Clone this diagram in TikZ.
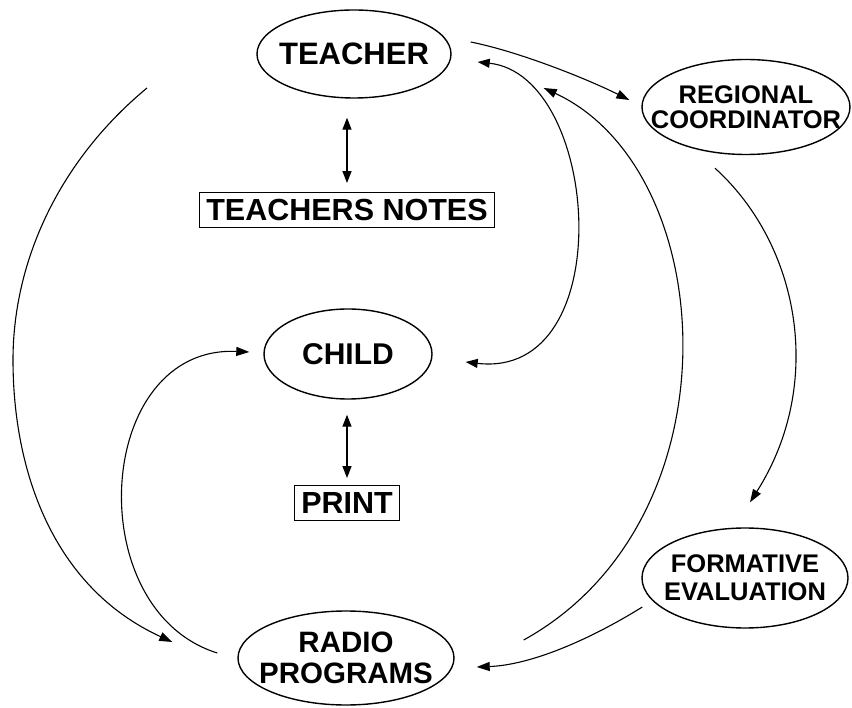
\documentclass[tikz,border=0pt]{standalone}
\usepackage{fontspec}
\setmainfont{Liberation Sans}
\usepackage{tikz}
\usetikzlibrary{arrows.meta, shapes.geometric, calc, positioning}

\begin{document}
\begin{tikzpicture}[x=1pt, y=-1pt, % toạ độ theo điểm ảnh
    oval/.style={draw, ellipse, line width=1.4pt, inner xsep=-30pt, inner ysep=0pt, align=center},
    hop/.style={draw, line width=0.9pt, inner xsep=7pt, inner ysep=0pt, minimum height=35pt, font=\bfseries\fontsize{30.5}{30.5}\selectfont},
    muiten/.style={line width=1.1pt, -{Triangle[length=13pt,width=9pt]}},
    haimui/.style={line width=1.3pt, {Triangle[length=12pt,width=9pt]}-{Triangle[length=12pt,width=9pt]}}]

  \useasboundingbox (0,0) rectangle (852,708); % khung hình

  % Vẽ các nút
  \node[oval, minimum width=194pt, minimum height=88pt, font=\bfseries\fontsize{31}{31}\selectfont] (teacher) at (354,54) {TEACHER};
  \node[hop] (notes) at (347,210) {TEACHERS NOTES};
  \node[oval, minimum width=168pt, minimum height=90pt, font=\bfseries\fontsize{30}{30}\selectfont] (child) at (348,354) {CHILD};
  \node[hop] (print) at (347,503) {PRINT};
  \node[oval, minimum width=208pt, minimum height=95pt, font=\bfseries\fontsize{25.5}{25}\selectfont] (regional) at (746,107) {REGIONAL\\COORDINATOR};
  \node[oval, minimum width=206pt, minimum height=100pt, font=\bfseries\fontsize{25.5}{28}\selectfont] (formative) at (745,578) {FORMATIVE\\EVALUATION};
  \node[oval, minimum width=216pt, minimum height=94pt, font=\bfseries\fontsize{29.5}{31}\selectfont] (radio) at (346,658) {RADIO\\PROGRAMS};
  \coordinate (outer) at (147,88); % đầu tự do của cung ngoài

  % Vẽ mũi tên hai chiều
  \draw[haimui, shorten <=19pt, shorten >=9pt] (notes.north |- teacher.south) -- (notes.north);
  \draw[haimui, shorten <=15pt, shorten >=7pt] (print.north |- child.south) -- (print.north);

  % Vẽ các cung
  \draw[muiten] ($(teacher.east)+(19,-12)$) .. controls +(50,10) and +(-40,-20) .. ($(regional.west)+(-12,-7)$); % TEACHER -> REGIONAL
  \draw[muiten] ($(regional.south)+(-31,13)$) .. controls +(85,77) and +(75,-118) .. ($(formative.north)+(5,-25)$); % REGIONAL -> FORMATIVE
  \draw[muiten] ($(formative.west)+(1,29)$) .. controls +(-53,33) and +(54,-2) .. ($(radio.east)+(22,9)$); % FORMATIVE -> RADIO
  \draw[muiten] ($(radio.east)+(69,-18)$) .. controls +(217,-120) and +(177,82) .. ($(teacher.east)+(92,34)$); % RADIO -> TEACHER
  \draw[haimui, line width=1.1pt] ($(teacher.east)+(26,8)$) .. controls +(123,13) and +(155,18) .. ($(child.east)+(33,8)$); % TEACHER <-> CHILD
  \draw[muiten] (outer) .. controls +(-87,72) and +(0,-100) .. (13,360) .. controls +(0,110) and +(-120,-55) .. ($(radio.west)+(-65,-16)$); % cung ngoài
  \draw[muiten] ($(radio.west)+(-20,-5)$) .. controls +(-138,-43) and +(-155,-7) .. ($(child.west)+(-14,-2)$); % RADIO -> CHILD

\end{tikzpicture}
\end{document}
